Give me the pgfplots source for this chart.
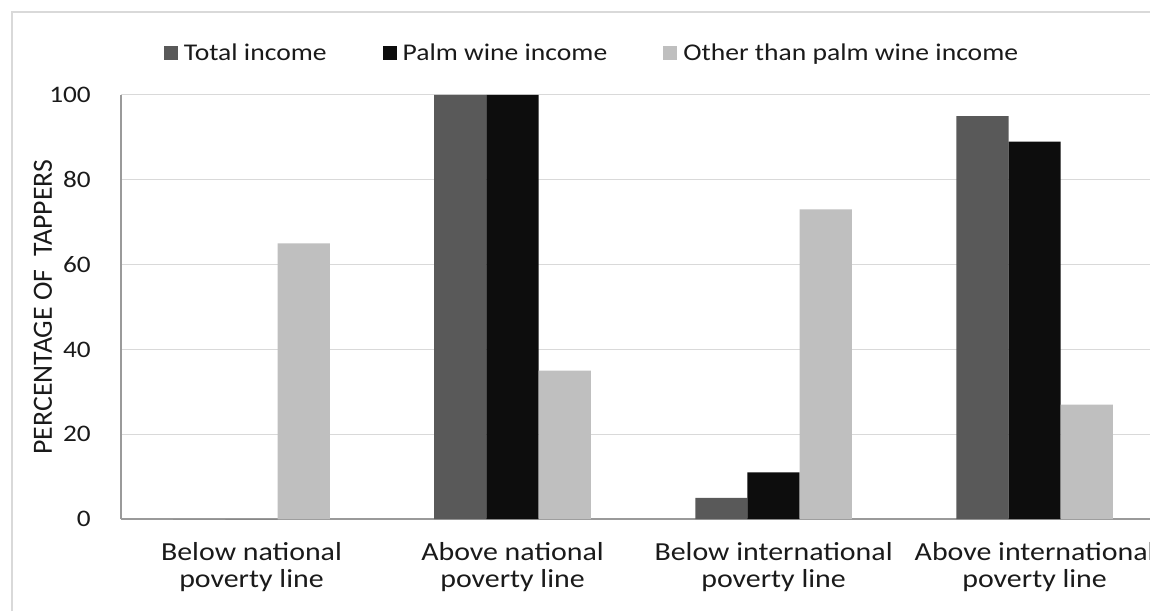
\documentclass[border=0pt]{standalone}
\usepackage{pgfplots}
\pgfplotsset{compat=1.18}
\usepackage{fontspec}
\setmainfont{Carlito}[FakeStretch=1.15]
\newfontfamily\axisfont{Carlito}

\definecolor{totalc}{HTML}{595959}
\definecolor{palmc}{HTML}{0D0D0D}
\definecolor{otherc}{HTML}{BFBFBF}
\definecolor{gridc}{HTML}{D9D9D9}
\definecolor{axisc}{HTML}{9A9A9A}
\definecolor{txt}{HTML}{1A1A1A}

\begin{document}
\begin{tikzpicture}[x=1pt,y=1pt]
\useasboundingbox (0,0) rectangle (1150,611);
% chart frame
\draw[gridc, line width=1.5pt] (12,0) -- (12,599) -- (1150,599);
\begin{axis}[
  at={(121pt,92pt)}, anchor=south west,
  scale only axis, width=1029pt, height=424pt,
  xmin=-0.5, xmax=3.442, ymin=0, ymax=100,
  ybar, bar width=0.2,
  axis x line*=bottom, axis y line*=left,
  axis line style={axisc, line width=1.2pt},
  ytick={0,20,40,60,80,100},
  ymajorgrids, grid style={gridc, line width=1pt},
  major tick length=0pt,
  xtick={0,1,2,3},
  xticklabels={{Below national\\poverty line},{Above national\\poverty line},{Below international\\poverty line},{Above international\\poverty line}},
  xticklabel style={align=center, font=\fontsize{26}{27.7}\selectfont, inner sep=0pt, yshift=-23pt, text=txt},
  yticklabel style={font=\fontsize{23.7}{24}\selectfont, inner sep=0pt, xshift=-30pt, text=txt},
  /pgf/number format/assume math mode=true,
  ylabel={PERCENTAGE OF\ \ TAPPERS},
  ylabel style={at={(axis description cs:-0.0671,0.5)}, anchor=base, font=\axisfont\fontsize{27.8}{28}\selectfont, text=txt},
  legend columns=3,
  legend style={draw=none, fill=none, at={(axis description cs:0.4567,1.1)}, anchor=center,
    font=\fontsize{24}{24}\selectfont, text=txt,
    /tikz/every odd column/.append style={column sep=6pt},
    /tikz/every even column/.append style={column sep=56pt},
    nodes={inner sep=0pt}},
  legend image code/.code={\fill[#1] (0pt,-7pt) rectangle (14pt,7pt);},
]
\addplot[fill=totalc, draw=none, bar shift=-0.2] coordinates {(0,0) (1,100) (2,5) (3,95)};
\addplot[fill=palmc, draw=none, bar shift=0] coordinates {(0,0) (1,100) (2,11) (3,89)};
\addplot[fill=otherc, draw=none, bar shift=0.2] coordinates {(0,65) (1,35) (2,73) (3,27)};
\legend{Total income, Palm wine income, Other than palm wine income}
\end{axis}
\end{tikzpicture}
\end{document}
